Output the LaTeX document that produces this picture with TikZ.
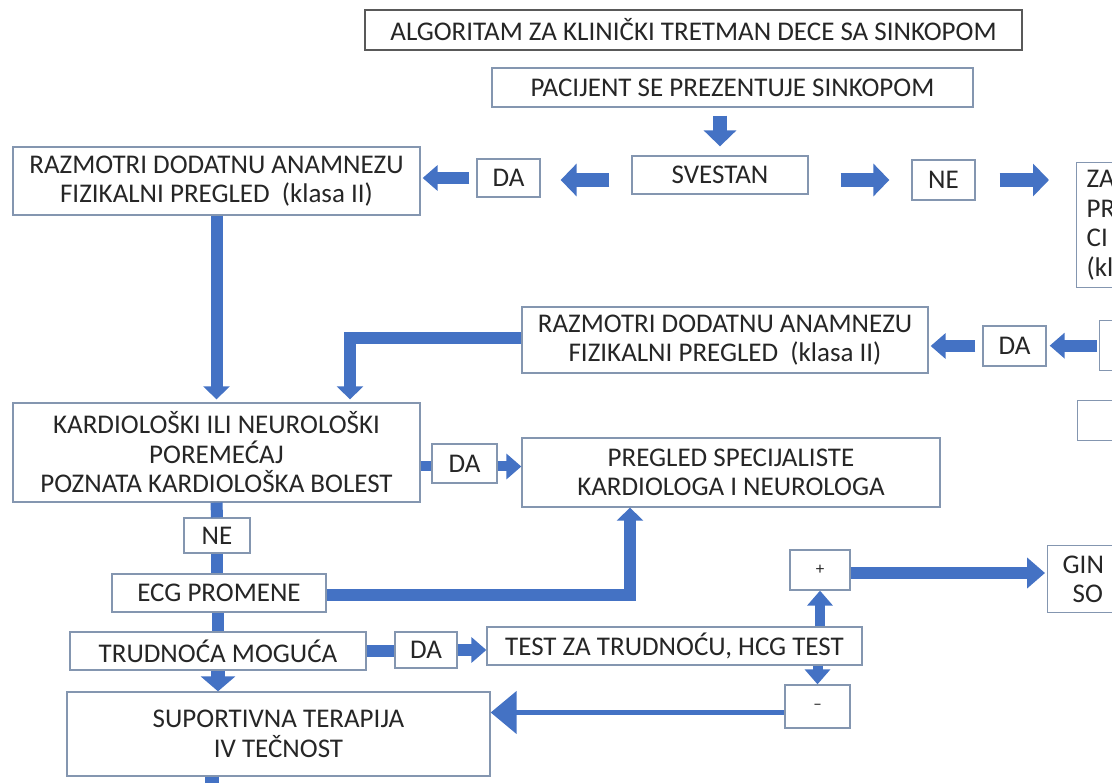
\documentclass[tikz,border=0pt]{standalone}
\usepackage{fontspec}
\setmainfont{Carlito}
\usetikzlibrary{arrows.meta}
\definecolor{ablue}{HTML}{4472C4}
\definecolor{boxc}{HTML}{8496B0}
\definecolor{titc}{HTML}{595959}
\definecolor{txt}{HTML}{262626}
\begin{document}
\begin{tikzpicture}[x=1pt,y=-1pt,
  box/.style={draw=boxc, line width=1.3pt, fill=white, inner sep=0pt, align=center, text=txt,
    font=\fontsize{27}{29.5}\selectfont},
  smallbox/.style={box, font=\fontsize{17}{20}\selectfont},
  fat/.style={draw=ablue, line width=14pt, -{Triangle[length=16pt,width=32pt]}},
  med/.style={draw=ablue, line width=12pt, -{Triangle[length=15pt,width=25pt]}},
  elb/.style={draw=ablue, line width=12pt, line join=miter, -{Triangle[length=13pt,width=26pt]}},
  bar/.style={draw=ablue, line width=12pt},
  thin/.style={draw=ablue, line width=5pt, -{Triangle[length=26pt,width=42pt]}}
]
\useasboundingbox (0,0) rectangle (1112,783);
\clip (0,0) rectangle (1112,783);

% nodes
\node[box, draw=titc, minimum width=657, minimum height=40] (title) at (693.5,30) {ALGORITAM ZA KLINIČKI TRETMAN DECE SA SINKOPOM};
\node[box, minimum width=481, minimum height=39] (pac) at (732.5,87.5) {PACIJENT SE PREZENTUJE SINKOPOM};
\node[box, minimum width=176, minimum height=38] (svestan) at (720,175) {SVESTAN};
\node[box, minimum width=63, minimum height=38] (da1) at (508.5,178) {DA};
\node[box, minimum width=407, minimum height=68] (raz1) at (216.5,181) {RAZMOTRI DODATNU ANAMNEZU\\FIZIKALNI PREGLED \ (klasa II)};
\node[box, minimum width=63, minimum height=40] (ne1) at (943.5,180) {NE};
\node[box, anchor=north west, text width=100pt, inner xsep=10pt, align=left, minimum height=125] (za) at (1076,162) {ZA\\PR\\CI\\(kl};
\node[box, minimum width=406, minimum height=66] (raz2) at (725,340) {RAZMOTRI DODATNU ANAMNEZU\\FIZIKALNI PREGLED \ (klasa II)};
\node[box, minimum width=63, minimum height=40] (da2) at (1014.5,346) {DA};
\node[box, anchor=north west, minimum width=60, minimum height=50] (partA) at (1099,320) {};
\node[box, anchor=north west, minimum width=80, minimum height=40] (partB) at (1077,400) {};
\node[box, minimum width=407, minimum height=99] (kard) at (216.5,452.5) {KARDIOLOŠKI ILI NEUROLOŠKI\\POREMEĆAJ\\POZNATA KARDIOLOŠKA BOLEST};
\node[box, minimum width=65, minimum height=39] (da3) at (464.5,463.5) {DA};
\node[box, minimum width=418, minimum height=69] (preg) at (731,472.5) {PREGLED SPECIJALISTE\\KARDIOLOGA I NEUROLOGA};
\node[box, minimum width=66, minimum height=35] (ne2) at (217,535.5) {NE};
\node[box, minimum width=214, minimum height=38] (ecg) at (219,593) {ECG PROMENE};
\node[box, minimum width=296, minimum height=38] (trud) at (218,651) {TRUDNOĆA MOGUĆA};
\node[box, minimum width=62, minimum height=36] (da4) at (426,650) {DA};
\node[box, minimum width=375, minimum height=38] (test) at (674.5,646) {TEST ZA TRUDNOĆU, HCG TEST};
\node[smallbox, minimum width=60, minimum height=40] (plus) at (820,570) {+};
\node[box, anchor=north west, text width=80pt, inner xsep=15pt, align=left, minimum height=67] (gin) at (1047,545) {GIN\\\hspace*{10pt}SO};
\node[smallbox, minimum width=65, minimum height=43] (minus) at (817.5,706.5) {–};
\node[box, minimum width=423, minimum height=84] (sup) at (278.5,734) {SUPORTIVNA TERAPIJA\\IV TEČNOST};
\coordinate (bot) at (212,800);

% connectors
\draw[fat, shorten <=8pt, shorten >=9pt] (pac.south -| svestan.north) -- (svestan.north);
\draw[fat, shorten <=22pt, shorten >=20pt] ([yshift=-5pt]svestan.west) -- ([yshift=-5pt]svestan.west -| da1.east);
\draw[med, shorten <=7pt, shorten >=2pt] (da1.west) -- (da1.west -| raz1.east);
\draw[fat, shorten <=32pt, shorten >=22pt] ([yshift=-5pt]svestan.east) -- ([yshift=-5pt]svestan.east -| ne1.west);
\draw[fat, shorten <=24pt, shorten >=27pt] (ne1.east) -- (ne1.east -| za.west);
\draw[elb, shorten >=3pt] (raz1.south) -- (kard.north);
\draw[elb, shorten >=3pt] ([yshift=2pt]raz2.west) -| ([xshift=133.5pt]kard.north);
\draw[med, shorten <=7pt, shorten >=2pt] (da2.west) -- (da2.west -| raz2.east);
\draw[med, shorten <=2pt, shorten >=3pt] (partA.west) -- (partA.west -| da2.east);
\draw[bar, line width=10pt] ([yshift=-3pt]da3.west -| kard.east) -- ([yshift=-3pt]da3.west);
\draw[med, line width=10pt] ([yshift=-3pt]da3.east) -- ([yshift=-3pt]da3.east -| preg.west);
\draw[bar] (kard.south) -- (ne2.north);
\draw[bar] (ne2.south) -- (ne2.south |- ecg.north);
\draw[elb] ([yshift=-2pt]ecg.east) -| ([xshift=-101pt]preg.south);
\draw[bar] (ecg.south -| trud.north) -- (trud.north);
\draw[bar] (trud.east) -- (trud.east -| da4.west);
\draw[med] (da4.east) -- (da4.east -| test.west);
\draw[med, line width=10pt] (plus.south |- test.north) -- (plus.south);
\draw[fat, line width=12pt, -{Triangle[length=18pt,width=30pt]}, shorten >=2pt] ([yshift=-3pt]plus.east) -- ([yshift=-3pt]plus.east -| gin.west);
\draw[med, line width=10pt] (minus.north |- test.south) -- (minus.north);
\draw[thin] ([yshift=-6pt]minus.west) -- ([yshift=-6pt]minus.west -| sup.east);
\draw[fat, -{Triangle[length=15pt,width=34pt]}] (trud.south) -- (trud.south |- sup.north);
\draw[bar, line width=14pt] (sup.south -| bot) -- (bot);
\end{tikzpicture}
\end{document}
